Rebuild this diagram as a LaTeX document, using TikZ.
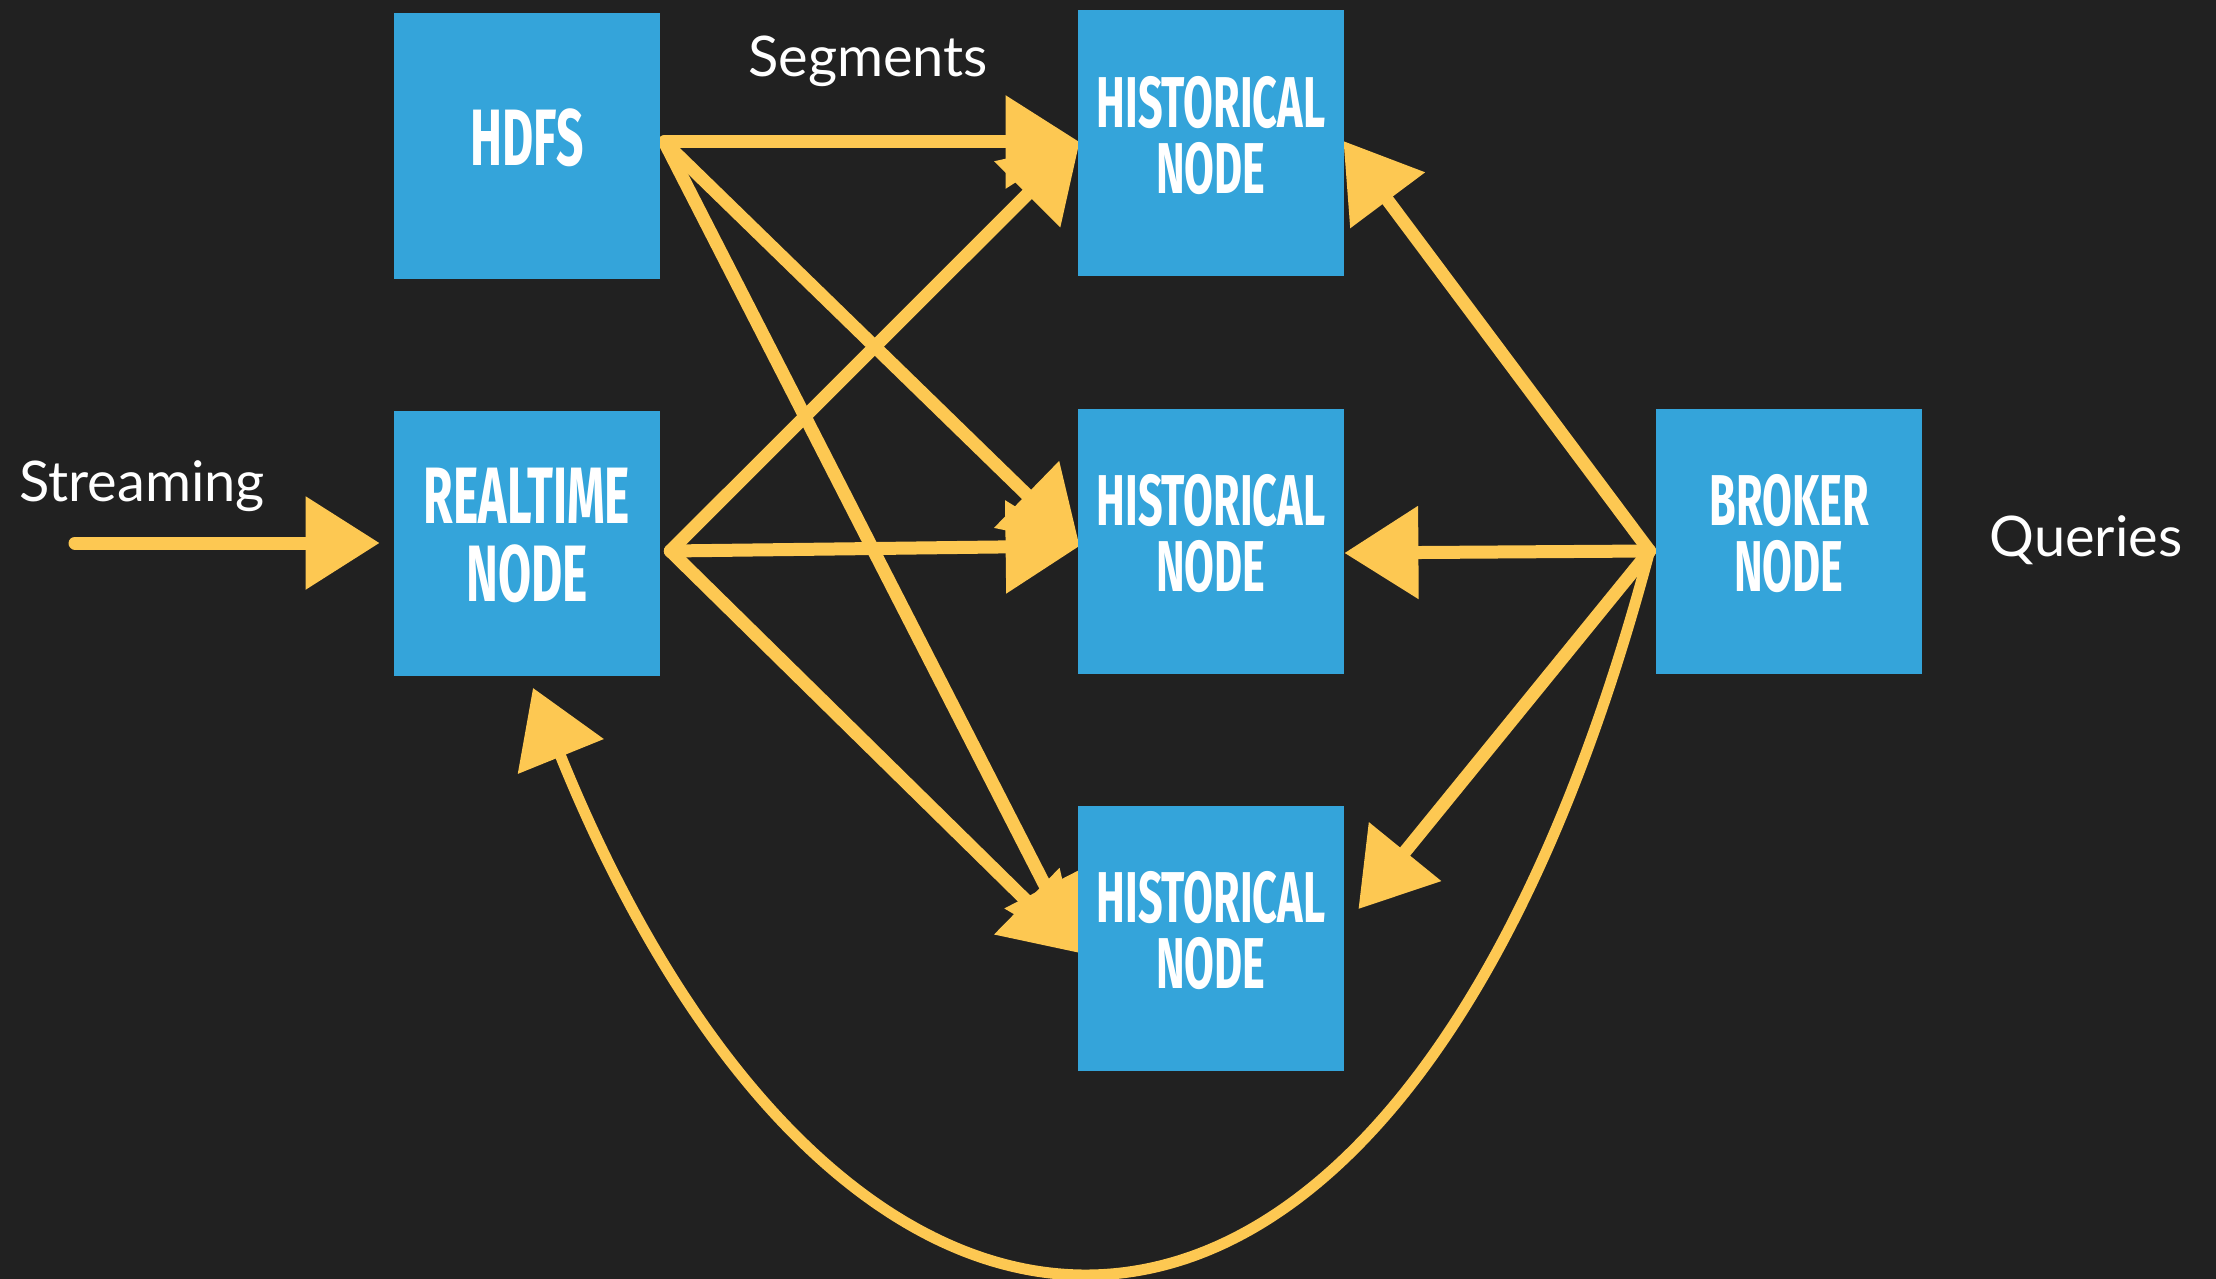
\documentclass[tikz,border=0pt]{standalone}
\usepackage{fontspec}
\setmainfont{Lato}
\newfontfamily\condfont{Fira Sans}
\usetikzlibrary{arrows.meta}
\usepackage{xcolor}

\definecolor{slate}{HTML}{212121}
\definecolor{sky}{HTML}{34A4DA}
\definecolor{chalk}{HTML}{FDC852}

\pgfdeclarelayer{back}
\pgfsetlayers{back,main}

% narrow capitals for the box labels
\newcommand{\squeezed}[1]{\scalebox{.6}[1]{#1}}
\newcommand{\histfont}{\condfont\bfseries\fontsize{36}{33}\selectfont}
\newcommand{\bigfont}{\condfont\bfseries\fontsize{40}{39}\selectfont}

\begin{document}
\begin{tikzpicture}[x=.5pt,y=-.5pt]
   \tikzstyle{box} = [fill=sky, text=white, inner sep=0pt, text depth=8.5pt,
     minimum width=133pt, minimum height=132.5pt, align=center]
   \tikzstyle{lbl} = [text=white, anchor=base,
     font=\fontsize{28}{30}\selectfont]
   \tikzstyle{Flow} = [draw=chalk, line width=6.5pt, line cap=round,
     -{Triangle[length=37pt,width=45pt]}]
   \useasboundingbox (0,0) rectangle (2216,1279);
   %% boxes
   \node [box, font=\bigfont] (hdfs) at (527,146) {\squeezed{HDFS}};
   \node [box, font=\bigfont] (rt) at (527,543)
     {\squeezed{REALTIME}\\\squeezed{NODE}};
   \node [box, font=\histfont] (h1) at (1211,143)
     {\squeezed{HISTORICAL}\\\squeezed{NODE}};
   \node [box, font=\histfont] (h2) at (1211,541)
     {\squeezed{HISTORICAL}\\\squeezed{NODE}};
   \node [box, font=\histfont] (h3) at (1211,938)
     {\squeezed{HISTORICAL}\\\squeezed{NODE}};
   \node [box, font=\histfont] (bk) at (1789,541)
     {\squeezed{BROKER}\\\squeezed{NODE}};
   %% side texts
   \node [lbl] (seg) at (868,77) {Segments};
   \node [lbl] (str) at (142,501) {Streaming};
   \node [lbl] (qry) at (2086,556) {Queries};
   %%
   \coordinate (in) at (75,543);
   \coordinate (hs) at ([shift={(4,-4)}]hdfs.east);
   \coordinate (rs) at ([shift={(10,8)}]rt.east);
   \coordinate (bs) at ([shift={(-6,10)}]bk.west);
   \begin{pgfonlayer}{back}
     \fill [slate] (0,0) rectangle (2216,1279);
     \path [Flow, shorten >=7pt] (in) -- (rt.west);
     \path [Flow] (hs) -- ([shift={(2,-1)}]h1.west);
     \path [Flow] (hs) -- ([shift={(2,5)}]h2.west);
     \path [Flow] (hs) -- ([shift={(2,15)}]h3.west);
     \path [Flow] (rs) -- ([shift={(2,-1)}]h1.west);
     \path [Flow] (rs) -- ([shift={(2,5)}]h2.west);
     \path [Flow] (rs) -- ([shift={(2,15)}]h3.west);
     \path [Flow] (bs) -- ([shift={(-1,-2)}]h1.east);
     \path [Flow] (bs) -- ([shift={(0,12)}]h2.east);
     \path [Flow] (bs) -- ([shift={(14,-29)}]h3.east);
     \path [Flow, line width=5.5pt] (bs) .. controls (1400,1490) and (850,1470)
       .. ([shift={(6,12)}]rt.south);
   \end{pgfonlayer}
\end{tikzpicture}
\end{document}
